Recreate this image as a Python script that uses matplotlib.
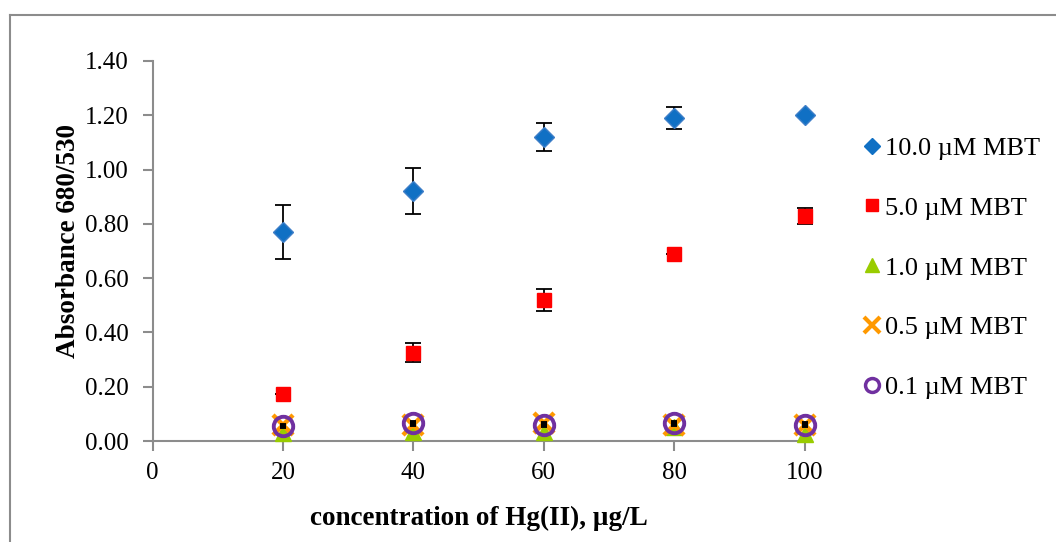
import matplotlib
matplotlib.use("Agg")
import matplotlib.pyplot as plt
from matplotlib.lines import Line2D

plt.rcParams["font.family"] = ["Liberation Serif", "DejaVu Serif"]

# concentration of Hg(II), ug/L
conc = [20, 40, 60, 80, 100]

mbt_10 = [0.77, 0.92, 1.12, 1.19, 1.20]
mbt_10_err = [0.10, 0.085, 0.05, 0.04, 0.0]
mbt_5 = [0.175, 0.325, 0.52, 0.69, 0.83]
mbt_5_err = [0.0, 0.035, 0.04, 0.0, 0.03]
mbt_1 = [0.03, 0.035, 0.035, 0.05, 0.025]
mbt_05 = [0.06, 0.06, 0.065, 0.06, 0.06]
mbt_01 = [0.055, 0.065, 0.06, 0.065, 0.06]
mbt_01_err = [0.005, 0.005, 0.005, 0.005, 0.005]

labels = ["10.0 \u00b5M MBT", "5.0 \u00b5M MBT", "1.0 \u00b5M MBT",
          "0.5 \u00b5M MBT", "0.1 \u00b5M MBT"]

c_blue = "#1070C4"
c_red = "#FF0000"
c_green = "#99CC00"
c_orange = "#FF9900"
c_purple = "#7030A0"
grey = "#8C8C8C"

fig = plt.figure(figsize=(10.56, 5.42), dpi=100)
ax = fig.add_axes([0.1445, 0.1863, 0.6175, 0.7012])

err_kw = dict(ecolor="black", elinewidth=1.3, capsize=6, capthick=1.3, linestyle="none")
ax.errorbar(conc, mbt_10, yerr=mbt_10_err, fmt="D", color=c_blue, ms=10.5,
            mec="#3F7FC8", zorder=3, clip_on=False, **err_kw)
ax.errorbar(conc, mbt_5, yerr=mbt_5_err, fmt="s", color=c_red, ms=10.5,
            zorder=3, clip_on=False, **err_kw)
ax.plot(conc, mbt_1, "^", color=c_green, ms=12, linestyle="none", zorder=3,
        clip_on=False)
ax.plot(conc, mbt_05, "x", color=c_orange, ms=14, mew=3.2, linestyle="none",
        zorder=4, clip_on=False)
ax.errorbar(conc, mbt_01, yerr=mbt_01_err, fmt="o", mfc="none", mec=c_purple,
            ms=14, mew=2.8, zorder=5, clip_on=False, ecolor="black",
            elinewidth=1.0, capsize=2, capthick=1.0, linestyle="none")

ax.set_xlim(0, 100)
ax.set_ylim(0, 1.4)
ax.set_xticks([0, 20, 40, 60, 80, 100])
ax.set_yticks([i * 0.2 for i in range(8)])
ax.set_yticklabels([f"{i * 0.2:.2f}" for i in range(8)])

for s in ["top", "right"]:
    ax.spines[s].set_visible(False)
for s in ["left", "bottom"]:
    ax.spines[s].set_color(grey)
    ax.spines[s].set_linewidth(1.5)
ax.tick_params(axis="both", colors=grey, width=1.5, length=7, labelsize=18,
               labelcolor="black")
ax.tick_params(axis="x", pad=8)
ax.tick_params(axis="y", pad=10)

ax.set_xlabel("concentration of Hg(II), \u00b5g/L", fontsize=19.5, fontweight="bold",
              labelpad=16)
ax.set_ylabel("Absorbance 680/530", fontsize=19.5, fontweight="bold")
ax.yaxis.set_label_coords(-0.11, 0.525)

handles = [
    Line2D([], [], marker="D", color=c_blue, ms=8, linestyle="none"),
    Line2D([], [], marker="s", color=c_red, ms=9, linestyle="none"),
    Line2D([], [], marker="^", color=c_green, ms=10, linestyle="none"),
    Line2D([], [], marker="x", color=c_orange, ms=11, mew=3, linestyle="none"),
    Line2D([], [], marker="o", mfc="none", mec=c_purple, ms=10, mew=2.5,
           linestyle="none"),
]
fig.legend(handles, labels, loc="upper left", bbox_to_anchor=(0.808, 0.768),
           frameon=False, fontsize=19, handlelength=0.6, handletextpad=0.2,
           labelspacing=1.38, borderaxespad=0)

# outer chart-area frame (right and bottom edges fall outside the image)
fig.add_artist(Line2D([10 / 1056, 10 / 1056], [0, 1 - 15 / 542],
                      transform=fig.transFigure, color=grey, lw=1.5))
fig.add_artist(Line2D([10 / 1056, 1], [1 - 15 / 542, 1 - 15 / 542],
                      transform=fig.transFigure, color=grey, lw=1.5))

fig.savefig("out.png", dpi=100)
